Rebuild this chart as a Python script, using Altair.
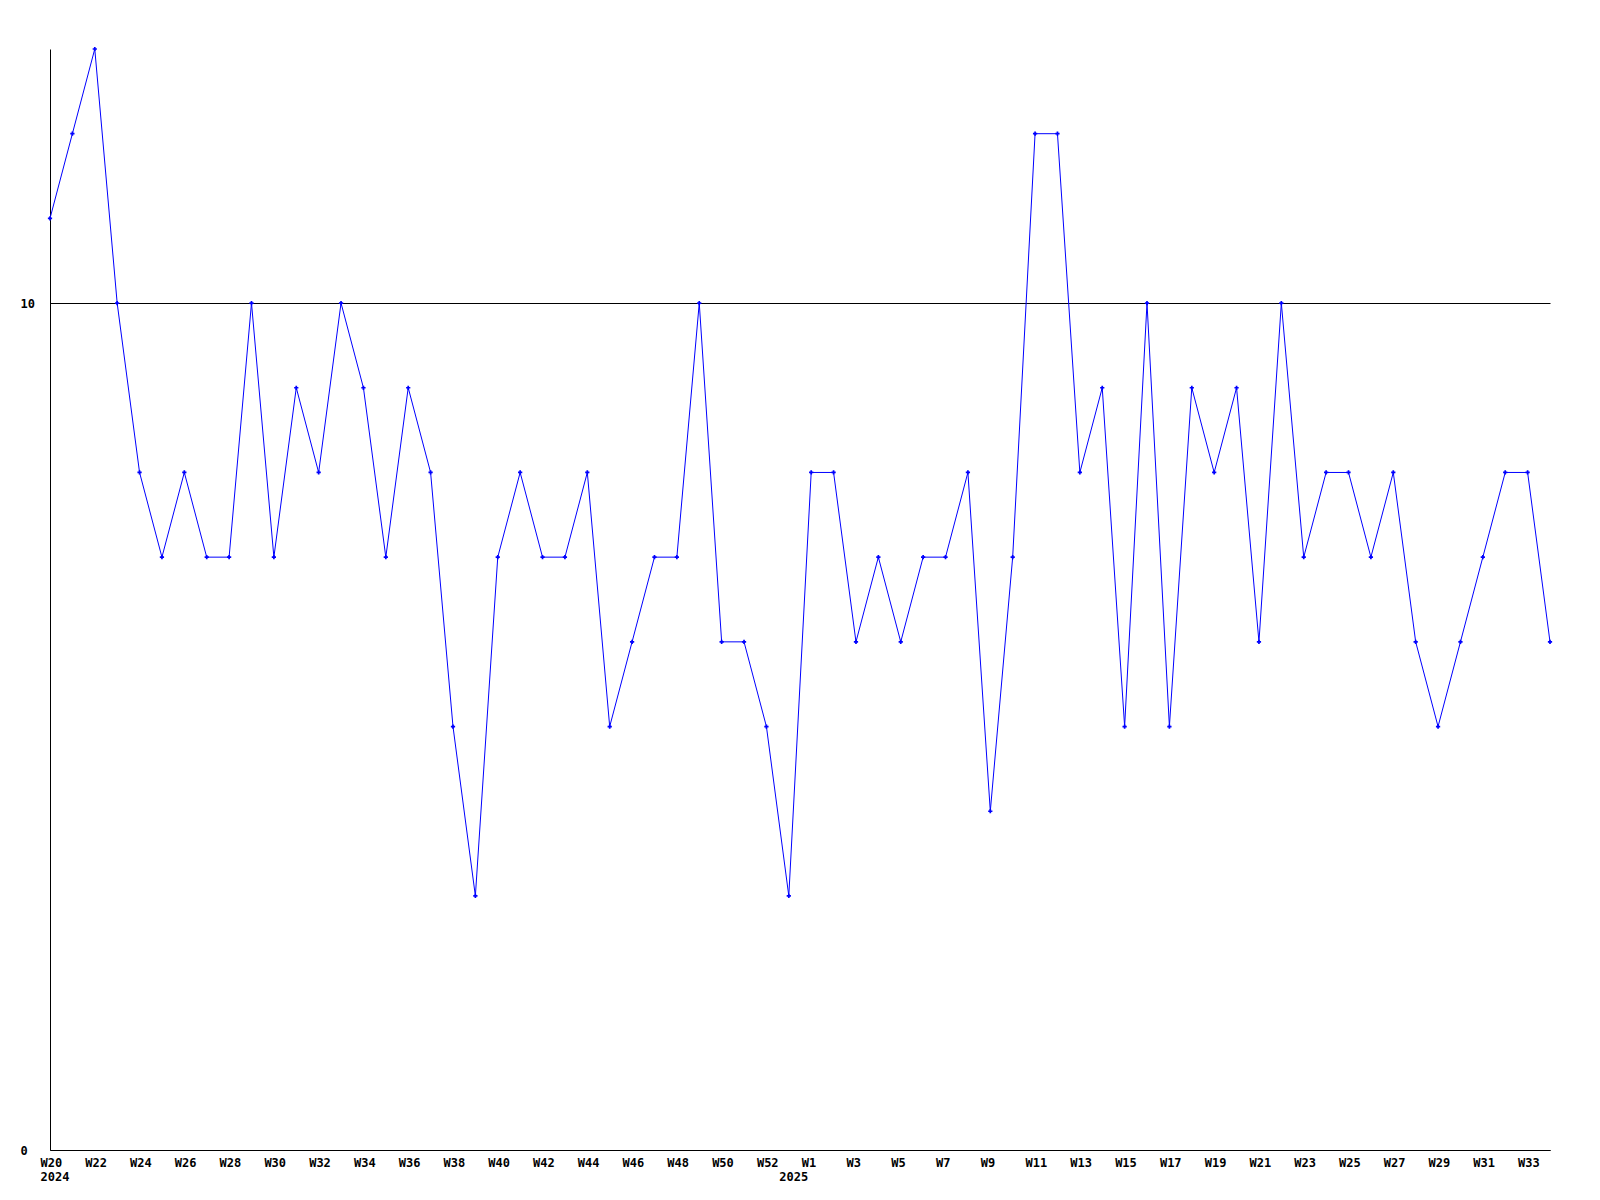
import json
import altair as alt
import pandas as pd

# Week labels for each data point (2024 W20 .. 2025 W34)
weeks = [
    "W20", "W21", "W22", "W23", "W24", "W25", "W26", "W27", "W28", "W29",
    "W30", "W31", "W32", "W33", "W34", "W35", "W36", "W37", "W38", "W39",
    "W40", "W41", "W42", "W43", "W44", "W45", "W46", "W47", "W48", "W49",
    "W50", "W51", "W52", "W53",
    "W1", "W2", "W3", "W4", "W5", "W6", "W7", "W8", "W9", "W10",
    "W11", "W12", "W13", "W14", "W15", "W16", "W17", "W18", "W19", "W20",
    "W21", "W22", "W23", "W24", "W25", "W26", "W27", "W28", "W29", "W30",
    "W31", "W32", "W33", "W34",
]
values = [
    11, 12, 13, 10, 8, 7, 8, 7, 7, 10,
    7, 9, 8, 10, 9, 7, 9, 8, 5, 3,
    7, 8, 7, 7, 8, 5, 6, 7, 7, 10,
    6, 6, 5, 3,
    8, 8, 6, 7, 6, 7, 7, 8, 4, 7,
    12, 12, 8, 9, 5, 10, 5, 9, 8, 9,
    6, 10, 7, 8, 8, 7, 8, 6, 5, 6,
    7, 8, 8, 6,
]
# year labels: position index and text
year_idx = [0, 33]
year_text = ["2024", "2025"]
y_ticks = [0, 10]

n = len(values)
df = pd.DataFrame({"idx": list(range(n)), "week": weeks, "value": values})
year_df = pd.DataFrame({"idx": year_idx, "year": year_text})

# week labels on every second point
week_labels = [w if i % 2 == 0 else "" for i, w in enumerate(weeks)]
week_expr = json.dumps(week_labels) + "[datum.value]"
year_labels = [""] * n
for i, t in zip(year_idx, year_text):
    year_labels[i] = t
year_expr = json.dumps(year_labels) + "[datum.value]"

FONT = "DejaVu Sans Mono"
xscale = alt.Scale(domain=[0, n - 1], nice=False, zero=False)
yscale = alt.Scale(domain=[0, 13], nice=False, zero=True)
label_style = dict(
    labelFont=FONT,
    labelFontSize=12,
    labelFontWeight="bold",
    labelColor="black",
)

x_enc = alt.X(
    "idx:Q",
    scale=xscale,
    axis=alt.Axis(
        orient="bottom",
        values=list(range(n)),
        labelExpr=week_expr,
        title=None,
        ticks=False,
        grid=False,
        domainColor="black",
        domainWidth=1,
        labelAlign="left",
        labelBaseline="top",
        labelOffset=-10,
        labelPadding=7,
        labelFlush=False,
        labelOverlap=False,
        labelBound=False,
        **label_style,
    ),
)
x_year = alt.X(
    "idx:Q",
    scale=xscale,
    axis=alt.Axis(
        orient="bottom",
        offset=14,
        values=year_idx,
        labelExpr=year_expr,
        title=None,
        ticks=False,
        grid=False,
        domain=False,
        labelAlign="left",
        labelBaseline="top",
        labelOffset=-10,
        labelPadding=7,
        labelFlush=False,
        labelOverlap=False,
        labelBound=False,
        **label_style,
    ),
)
y_enc = alt.Y(
    "value:Q",
    scale=yscale,
    axis=alt.Axis(
        values=y_ticks,
        format="d",
        title=None,
        ticks=False,
        tickSize=0,
        grid=True,
        gridColor="black",
        gridOpacity=1,
        gridWidth=1,
        domainColor="black",
        domainWidth=1,
        labelAlign="left",
        labelBaseline="middle",
        labelPadding=30,
        **label_style,
    ),
)

base = alt.Chart(df)
line = base.mark_line(color="#0000ff", strokeWidth=1).encode(x=x_enc, y=y_enc)
pts = base.mark_point(shape="cross", filled=True, size=18, color="#0000ff", opacity=1).encode(
    x=alt.X("idx:Q", scale=xscale, axis=None),
    y=y_enc,
)
years = alt.Chart(year_df).mark_point(opacity=0).encode(x=x_year)

chart = (
    alt.layer(line, pts, years)
    .resolve_axis(x="independent")
    .properties(
        width=1500,
        height=1101,
        autosize=alt.AutoSizeParams(type="none"),
        padding={"left": 42, "top": 41, "right": 42, "bottom": 42},
        background="white",
    )
    .configure_view(stroke=None)
)

chart.save("out.html", embed_options={"renderer": "svg", "actions": False})
